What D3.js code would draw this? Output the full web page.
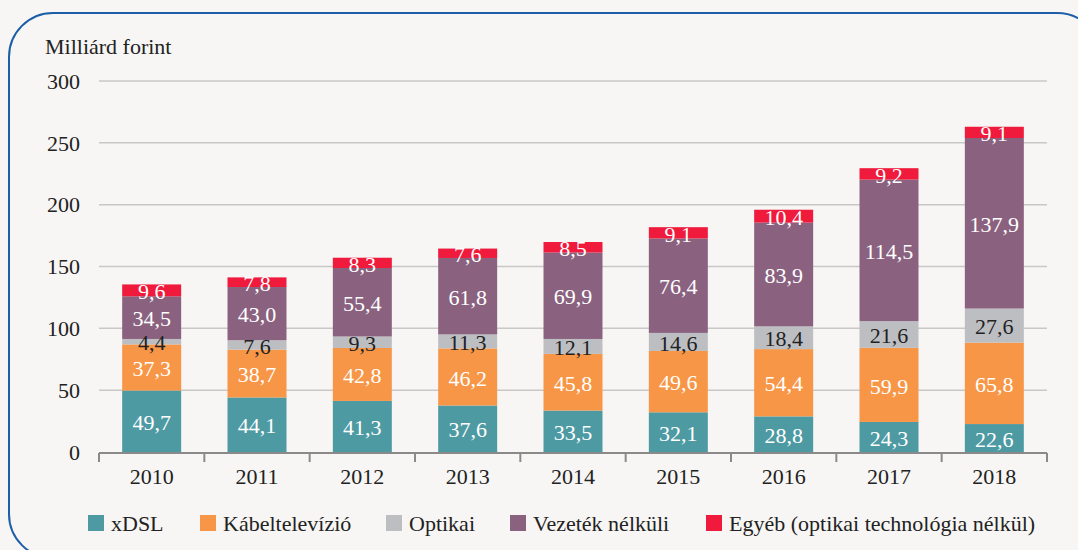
<!DOCTYPE html>
<html>
<head>
<meta charset="utf-8">
<script src="https://cdn.jsdelivr.net/npm/d3@7"></script>
<style>
  body { margin: 0; background: #f7f6f4; }
</style>
</head>
<body>
<div id="chart"></div>
<script>
// data (Milliárd forint)
var years = ["2010","2011","2012","2013","2014","2015","2016","2017","2018"];
var seriesNames = ["xDSL","Kábeltelevízió","Optikai","Vezeték nélküli","Egyéb (optikai technológia nélkül)"];
var xdsl    = [49.7,44.1,41.3,37.6,33.5,32.1,28.8,24.3,22.6];
var kabel   = [37.3,38.7,42.8,46.2,45.8,49.6,54.4,59.9,65.8];
var optikai = [4.4,7.6,9.3,11.3,12.1,14.6,18.4,21.6,27.6];
var vezetek = [34.5,43.0,55.4,61.8,69.9,76.4,83.9,114.5,137.9];
var egyeb   = [9.6,7.8,8.3,7.6,8.5,9.1,10.4,9.2,9.1];
var yTicks = [0,50,100,150,200,250,300];

var colors = ["#4e9aa3","#f79646","#bdbec2","#8a6280","#ef1a3c"];
var labelColors = ["#fff","#fff","#222","#fff","#fff"];

var width = 1078, height = 550;
var margin = {left:99, right:31, top:81, bottom:98};
var fontFam = "'Liberation Serif', 'Times New Roman', 'DejaVu Serif', serif";
var fs = 22;

var svg = d3.select('#chart')
            .append('svg')
            .attr('width', width)
            .attr('height', height)
            .attr('font-family', fontFam)
            .style('font-family', fontFam);

svg.append('rect')
   .attr('width', width).attr('height', height)
   .attr('fill', '#f7f6f4');

// rounded frame
svg.append('rect')
   .attr('x', 9).attr('y', 13)
   .attr('width', 1092).attr('height', 545)
   .attr('rx', 44).attr('ry', 44)
   .attr('fill', 'none')
   .attr('stroke', '#1c5fa6')
   .attr('stroke-width', 2);

var x = d3.scaleBand()
          .domain(years)
          .range([margin.left, width - margin.right])
          .paddingInner(0.44)
          .paddingOuter(0.22);

var y = d3.scaleLinear()
          .domain([0, 300])
          .range([height - margin.bottom, margin.top]);

// gridlines
svg.append('g')
   .selectAll('line')
   .data(yTicks.slice(1))
   .enter()
   .append('line')
   .attr('x1', margin.left).attr('x2', width - margin.right)
   .attr('y1', function(d){ return y(d); })
   .attr('y2', function(d){ return y(d); })
   .attr('stroke', '#c9c8c6')
   .attr('stroke-width', 1.5);

// y labels
svg.append('g')
   .selectAll('text')
   .data(yTicks)
   .enter()
   .append('text')
   .attr('x', 80)
   .attr('y', function(d){ return y(d); })
   .attr('dy', '0.35em')
   .attr('text-anchor', 'end')
   .attr('font-size', fs)
   .attr('fill', '#222')
   .text(function(d){ return d; });

svg.append('text')
   .attr('x', 45).attr('y', 54)
   .attr('font-size', fs)
   .attr('fill', '#222')
   .text('Milliárd forint');

// stack
var table = years.map(function(yr, i){
  return {year: yr, s0: xdsl[i], s1: kabel[i], s2: optikai[i], s3: vezetek[i], s4: egyeb[i]};
});
var keys = ["s0","s1","s2","s3","s4"];
var stacked = d3.stack().keys(keys)(table);

var layers = svg.append('g')
   .selectAll('g')
   .data(stacked)
   .enter()
   .append('g')
   .attr('fill', function(d, i){ return colors[i]; });

layers.selectAll('rect')
   .data(function(d){ return d; })
   .enter()
   .append('rect')
   .attr('x', function(d){ return x(d.data.year); })
   .attr('width', x.bandwidth())
   .attr('y', function(d){ return y(d[1]); })
   .attr('height', function(d){ return y(d[0]) - y(d[1]); });

// value labels
stacked.forEach(function(layer, li){
  svg.append('g')
     .selectAll('text')
     .data(layer)
     .enter()
     .append('text')
     .attr('x', function(d){ return x(d.data.year) + x.bandwidth() / 2; })
     .attr('y', function(d){ return (y(d[0]) + y(d[1])) / 2 + 1; })
     .attr('dy', '0.35em')
     .attr('text-anchor', 'middle')
     .attr('font-size', fs)
     .attr('fill', labelColors[li])
     .text(function(d){ return (d[1] - d[0]).toFixed(1).replace('.', ','); });
});

// x axis
var axisY = y(0) + 1;
svg.append('line')
   .attr('x1', margin.left).attr('x2', width - margin.right)
   .attr('y1', axisY).attr('y2', axisY)
   .attr('stroke', '#8a8a8a').attr('stroke-width', 2);

var bounds = d3.range(years.length + 1).map(function(i){ return margin.left + i * (width - margin.left - margin.right) / years.length; });
svg.append('g')
   .selectAll('line')
   .data(bounds)
   .enter()
   .append('line')
   .attr('x1', function(d){ return d; }).attr('x2', function(d){ return d; })
   .attr('y1', axisY).attr('y2', axisY + 9)
   .attr('stroke', '#8a8a8a').attr('stroke-width', 2);

svg.append('g')
   .selectAll('text')
   .data(years)
   .enter()
   .append('text')
   .attr('x', function(d){ return x(d) + x.bandwidth() / 2; })
   .attr('y', 476)
   .attr('dy', '0.35em')
   .attr('text-anchor', 'middle')
   .attr('font-size', fs)
   .attr('fill', '#222')
   .text(function(d){ return d; });

// legend
var legendX = [88, 200, 386, 510, 706];
var legend = svg.append('g')
   .selectAll('g')
   .data(seriesNames)
   .enter()
   .append('g')
   .attr('transform', function(d, i){ return 'translate(' + legendX[i] + ',515)'; });

legend.append('rect')
   .attr('width', 16).attr('height', 16)
   .attr('fill', function(d, i){ return colors[i]; });

legend.append('text')
   .attr('x', 23).attr('y', 8)
   .attr('dy', '0.35em')
   .attr('font-size', fs)
   .attr('fill', '#222')
   .text(function(d){ return d; });
</script>
</body>
</html>
